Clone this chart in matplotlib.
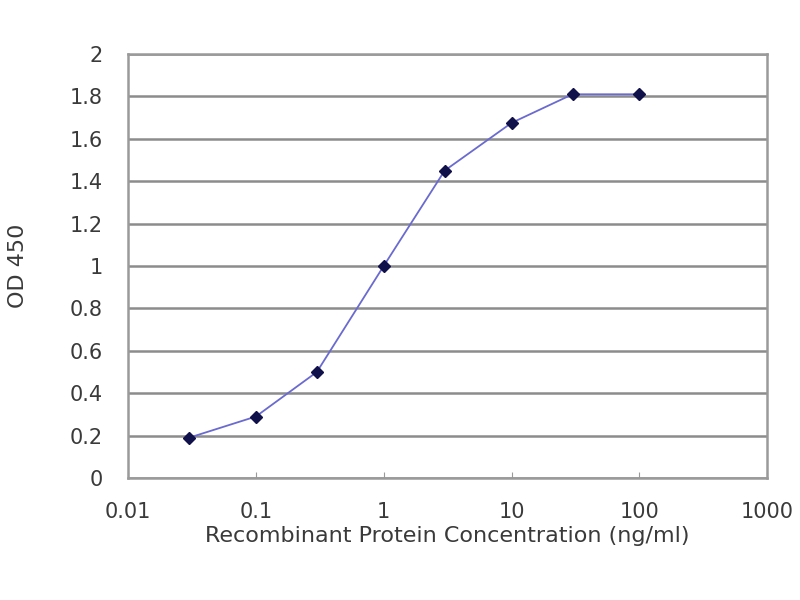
import matplotlib
matplotlib.use("Agg")
import matplotlib.pyplot as plt

concentration = [0.03, 0.1, 0.3, 1, 3, 10, 30, 100]
od450 = [0.19, 0.29, 0.50, 1.00, 1.45, 1.675, 1.81, 1.81]

y_ticks = [0, 0.2, 0.4, 0.6, 0.8, 1, 1.2, 1.4, 1.6, 1.8, 2]
y_labels = ["0", "0.2", "0.4", "0.6", "0.8", "1", "1.2", "1.4", "1.6", "1.8", "2"]
x_ticks = [0.01, 0.1, 1, 10, 100, 1000]
x_labels = ["0.01", "0.1", "1", "10", "100", "1000"]

text_col = "#3a3a3a"
grid_col = "#8c8c8c"

fig = plt.figure(figsize=(8, 6), dpi=100)
ax = fig.add_axes([0.16, 0.2033, 0.799, 0.7067])

ax.plot(concentration, od450, color="#6a6ad0", lw=1.3, zorder=3)
ax.plot(concentration, od450, ls="none", marker="D", ms=6, color="#10104a", zorder=4)

ax.set_xscale("log")
ax.set_xlim(0.01, 1000)
ax.set_ylim(0, 2)

ax.set_yticks(y_ticks)
ax.set_yticklabels(y_labels)
ax.set_xticks(x_ticks)
ax.set_xticklabels(x_labels)
ax.minorticks_off()

ax.yaxis.grid(True, color=grid_col, lw=1.8)
ax.set_axisbelow(True)
for s in ax.spines.values():
    s.set_color("#9a9a9a")
    s.set_linewidth(1.8)

ax.tick_params(axis="y", length=0, pad=18, labelsize=15, labelcolor=text_col)
ax.tick_params(axis="x", direction="in", length=4, color="#9a9a9a", pad=17,
               labelsize=15, labelcolor=text_col)
for lab in ax.get_xticklabels() + ax.get_yticklabels():
    lab.set_fontfamily("DejaVu Sans")

ax.set_xlabel("Recombinant Protein Concentration (ng/ml)", fontsize=16,
              color=text_col, family="DejaVu Sans", labelpad=3)
ax.set_ylabel("OD 450", fontsize=16, color=text_col, family="DejaVu Sans",
              labelpad=30)

fig.savefig("out.png", dpi=100)
